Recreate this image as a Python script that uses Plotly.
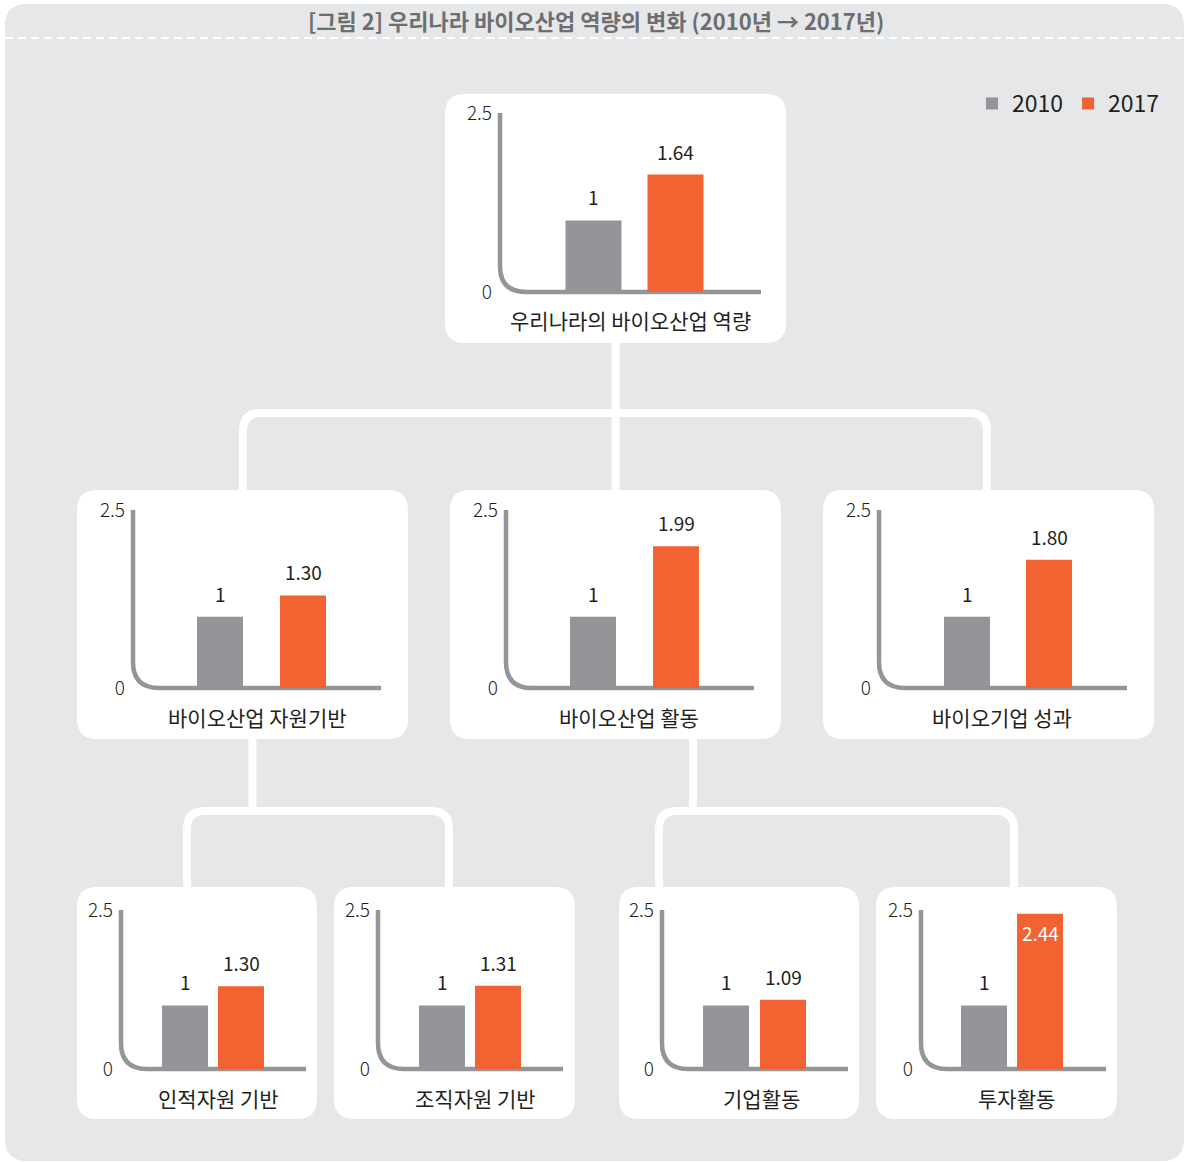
import plotly.graph_objects as go

# ---------------- data ----------------
years = ["2010", "2017"]
chart_names = [
    "우리나라의 바이오산업 역량",
    "바이오산업 자원기반",
    "바이오산업 활동",
    "바이오기업 성과",
    "인적자원 기반",
    "조직자원 기반",
    "기업활동",
    "투자활동",
]
values_2010 = [1, 1, 1, 1, 1, 1, 1, 1]
values_2017 = [1.64, 1.30, 1.99, 1.80, 1.30, 1.31, 1.09, 2.44]
y_tick_vals = [0, 2.5]
y_tick_text = ["0", "2.5"]
title_text = "[그림 2] 우리나라 바이오산업 역량의 변화 (2010년 → 2017년)"

# ---------------- style / geometry (pixels) ----------------
W, H = 1189, 1162
FONT = "Noto Sans CJK KR"
GRAY = "#939598"
ORANGE = "#f16331"
DARK = "#231f20"
PANEL = "#e6e7e8"

# each chart: axis_x, end_x, base_y, top_y, center1, center2, bar_w, label_x, label_y
geo = [
    (500, 761, 292, 113, 593.5, 675.5, 56, 630, 320),
    (133, 381, 688, 510, 220, 303, 46, 257, 717),
    (506, 754, 688, 510, 593, 676, 46, 629, 717),
    (879, 1127, 688, 510, 967, 1049, 46, 1002, 717),
    (121, 306, 1069, 910, 185, 241, 46, 218, 1098),
    (378, 563, 1069, 910, 442, 498, 46, 475, 1098),
    (662, 848, 1069, 910, 726, 783, 46, 761, 1098),
    (921, 1106, 1069, 910, 984, 1040, 46, 1017, 1098),
]
boxes = [
    (445, 94, 786, 343),
    (77, 490, 408, 739), (450, 490, 781, 739), (823, 490, 1154, 739),
    (77, 887, 317, 1119), (334, 887, 575, 1119), (619, 887, 859, 1119), (876, 887, 1117, 1119),
]


def X(px):
    return px / W


def Y(py):
    return 1 - py / H


def p(x, y):
    return f"{X(x):.5f},{Y(y):.5f}"


def rrect(x0, y0, x1, y1, r):
    return (f"M {p(x0 + r, y0)} L {p(x1 - r, y0)} Q {p(x1, y0)} {p(x1, y0 + r)} "
            f"L {p(x1, y1 - r)} Q {p(x1, y1)} {p(x1 - r, y1)} L {p(x0 + r, y1)} "
            f"Q {p(x0, y1)} {p(x0, y1 - r)} L {p(x0, y0 + r)} Q {p(x0, y0)} {p(x0 + r, y0)} Z")


def bracket(xl, xr, yb, yh, r=18):
    return (f"M {p(xl, yb)} L {p(xl, yh + r)} Q {p(xl, yh)} {p(xl + r, yh)} "
            f"L {p(xr - r, yh)} Q {p(xr, yh)} {p(xr, yh + r)} L {p(xr, yb)}")


shapes = []
# gray panel
shapes.append(dict(type="path", path=rrect(5, 4, 1184, 1161, 22), xref="paper", yref="paper",
                   fillcolor=PANEL, line=dict(width=0), layer="below"))
# dashed line under title
shapes.append(dict(type="line", x0=X(5), x1=X(1184), y0=Y(38), y1=Y(38), xref="paper", yref="paper",
                   line=dict(color="white", width=2, dash="8px,5px"), layer="below"))
# connectors
conn = dict(color="white", width=8)
shapes.append(dict(type="line", x0=X(615.5), x1=X(615.5), y0=Y(340), y1=Y(495),
                   xref="paper", yref="paper", line=conn, layer="below"))
shapes.append(dict(type="path", path=bracket(243, 987, 495, 413), xref="paper", yref="paper",
                   line=conn, layer="below"))
shapes.append(dict(type="line", x0=X(252.5), x1=X(252.5), y0=Y(735), y1=Y(811),
                   xref="paper", yref="paper", line=conn, layer="below"))
shapes.append(dict(type="path", path=bracket(187, 449, 892, 811), xref="paper", yref="paper",
                   line=conn, layer="below"))
shapes.append(dict(type="line", x0=X(693), x1=X(693), y0=Y(735), y1=Y(811),
                   xref="paper", yref="paper", line=conn, layer="below"))
shapes.append(dict(type="path", path=bracket(659, 1014, 892, 811), xref="paper", yref="paper",
                   line=conn, layer="below"))
# white boxes
for (x0, y0, x1, y1) in boxes:
    shapes.append(dict(type="path", path=rrect(x0, y0, x1, y1, 20), xref="paper", yref="paper",
                       fillcolor="white", line=dict(width=0), layer="below"))

fig = go.Figure()
annotations = []
layout_axes = {}

for i, name in enumerate(chart_names):
    ax_x, end_x, base_y, top_y, c1, c2, bw, lx, ly = geo[i]
    n = i + 1
    xa = "x" if n == 1 else f"x{n}"
    ya = "y" if n == 1 else f"y{n}"
    xkey = "xaxis" if n == 1 else f"xaxis{n}"
    ykey = "yaxis" if n == 1 else f"yaxis{n}"
    unit = c2 - c1
    xr = [(ax_x - c1) / unit, (end_x - c1) / unit]
    width = bw / unit

    # curved axis line
    r = 26
    shapes.append(dict(
        type="path",
        path=f"M {p(ax_x, top_y)} L {p(ax_x, base_y - r)} Q {p(ax_x, base_y)} {p(ax_x + r, base_y)} L {p(end_x, base_y)}",
        xref="paper", yref="paper", line=dict(color=GRAY, width=4.5), layer="below"))

    vals = [values_2010[i], values_2017[i]]
    cols = [GRAY, ORANGE]
    for k in range(2):
        fig.add_trace(go.Bar(
            x=[k], y=[vals[k]], width=width, name=years[k],
            marker=dict(color=cols[k], line=dict(width=0)),
            xaxis=xa, yaxis=ya, showlegend=(i == 0), legendgroup=years[k],
            hoverinfo="skip",
        ))
        txt = f"{vals[k]:g}" if k == 0 else f"{vals[k]:.2f}"
        inside = vals[k] > 2.2
        annotations.append(dict(
            x=k, y=vals[k], xref=xa, yref=ya, text=txt, showarrow=False,
            yanchor="top" if inside else "bottom", yshift=-3 if inside else 8,
            font=dict(family=FONT, size=19, color="white" if inside else DARK),
        ))

    layout_axes[xkey] = dict(domain=[X(ax_x), X(end_x)], range=xr, visible=False,
                             anchor=ya, fixedrange=True, automargin=False)
    layout_axes[ykey] = dict(domain=[Y(base_y), Y(top_y)], range=[0, 2.5], anchor=xa,
                             tickvals=y_tick_vals, ticktext=y_tick_text, showgrid=False,
                             zeroline=False, showline=False, ticks="", automargin=False,
                             tickfont=dict(family=FONT, size=19, color=DARK, weight=300),
                             ticklabelstandoff=7, fixedrange=True)
    annotations.append(dict(x=X(lx), y=Y(ly), xref="paper", yref="paper", text=name,
                            showarrow=False, xanchor="center", yanchor="middle",
                            font=dict(family=FONT, size=21, color=DARK)))

annotations.append(dict(x=X(595.5), y=Y(20), xref="paper", yref="paper", text=title_text,
                        showarrow=False, xanchor="center", yanchor="middle",
                        font=dict(family=FONT, size=22, color="#6d6e71", weight=700)))

fig.update_layout(
    width=W, height=H,
    margin=dict(l=0, r=0, t=0, b=0, autoexpand=False),
    paper_bgcolor="white", plot_bgcolor="rgba(0,0,0,0)",
    barmode="overlay",
    shapes=shapes, annotations=annotations,
    showlegend=True,
    legend=dict(orientation="h", x=X(1165), xanchor="right", y=Y(82), yanchor="top",
                bgcolor="rgba(0,0,0,0)", font=dict(family=FONT, size=23, color=DARK),
                itemclick=False, itemdoubleclick=False),
    font=dict(family=FONT),
    **layout_axes,
)

fig.write_html("out.html", config={"displayModeBar": False})
